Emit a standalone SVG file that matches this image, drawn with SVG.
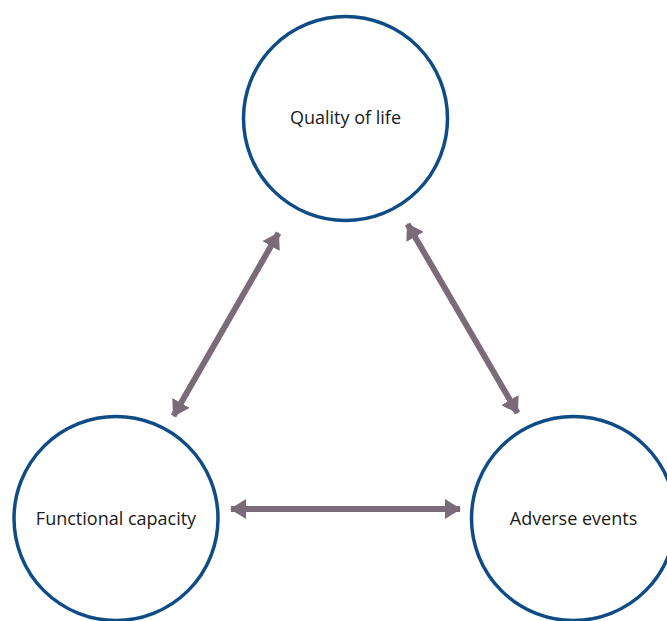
<svg xmlns="http://www.w3.org/2000/svg" width="667" height="621" viewBox="0 0 667 621">
<style>
.node circle{fill:#fff;stroke:#0f4c86;stroke-width:3.5}
.node text{font-family:"Open Sans",Lato,"Liberation Sans",sans-serif;font-size:18px;fill:#1a1a1a;text-anchor:middle}
.conn line{stroke:#7b6b79;stroke-width:6}
</style>
<defs>
<marker id="ah" viewBox="0 0 16 20" refX="15" refY="10" markerWidth="16" markerHeight="20" markerUnits="userSpaceOnUse" orient="auto-start-reverse">
<path d="M0,0 L16,10 L0,20 Z" fill="#7b6b79"/>
</marker>
</defs>
<rect width="667" height="621" fill="#fff"/>
<g id="q" class="node"><circle cx="345.5" cy="118.5" r="102"/><text x="345.5" y="124">Quality of life</text></g>
<g id="f" class="node"><circle cx="116" cy="518.5" r="102"/><text x="116" y="525">Functional capacity</text></g>
<g id="a" class="node"><circle cx="573.5" cy="518.5" r="102"/><text x="573.5" y="525">Adverse events</text></g>
<g id="connectors" class="conn">
<line x1="173.5" y1="416" x2="278.5" y2="233" marker-start="url(#ah)" marker-end="url(#ah)"/>
<line x1="407.5" y1="224" x2="517.5" y2="413" marker-start="url(#ah)" marker-end="url(#ah)"/>
<line x1="231" y1="509" x2="460" y2="509" marker-start="url(#ah)" marker-end="url(#ah)"/>
</g>
</svg>
